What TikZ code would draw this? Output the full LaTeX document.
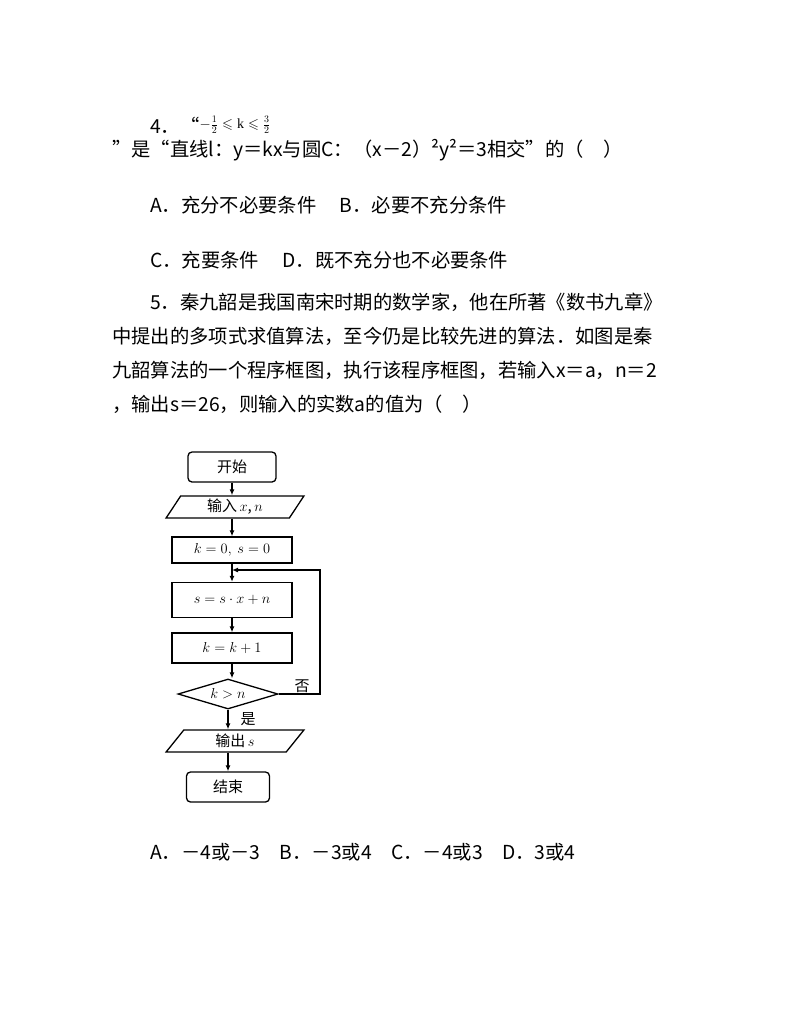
\documentclass[tikz,border=0pt]{standalone}
\usepackage{amssymb}
\usepackage{fontspec}
\setmainfont{Liberation Serif}
\newfontfamily\cjk{Noto Sans CJK SC}
\usetikzlibrary{shapes.geometric,arrows.meta}
\begin{document}
\begin{tikzpicture}[x=1pt,y=-1pt,
  txt/.style={anchor=west,inner sep=0pt,font=\cjk\fontsize{19.3}{22}\selectfont},
  fc/.style={draw,line width=1.3pt,minimum width=120pt,font=\cjk\fontsize{15}{17}\selectfont},
  rbox/.style={fc,rounded corners=4pt,minimum height=30pt,minimum width=88pt},
  pbox/.style={fc,trapezium,trapezium left angle=70,trapezium right angle=-70,trapezium stretches=true,minimum height=22pt,minimum width=138pt,inner xsep=2pt},
  sbox/.style={fc,minimum height=30pt},
  arr/.style={line width=1.2pt,-{Latex[length=6pt,width=5pt]}}]
\useasboundingbox (0,0) rectangle (794,1028);
\node[txt] (l1) at (150,125) {4．“\raisebox{5pt}{\fontsize{14}{16}\selectfont$-\frac{1}{2}\leqslant\mathrm{k}\leqslant\frac{3}{2}$}};
\node[txt] (l2) at (112,150) {”是“直线l：y＝kx与圆C：（x－2）²y²＝3相交”的（\quad）};
\node[txt] (l3) at (150,205) {A．充分不必要条件\quad\ B．必要不充分条件};
\node[txt] (l4) at (150,260) {C．充要条件\quad\ D．既不充分也不必要条件};
\node[txt] (l5) at (150,302) {5．秦九韶是我国南宋时期的数学家，他在所著《数书九章》};
\node[txt] (l6) at (112,336) {中提出的多项式求值算法，至今仍是比较先进的算法．如图是秦};
\node[txt] (l7) at (112,370) {九韶算法的一个程序框图，执行该程序框图，若输入x＝a，n＝2};
\node[txt] (l8) at (112,404) {，输出s＝26，则输入的实数a的值为（\quad）};
\node[txt] (l9) at (150,852) {A．－4或－3\quad B．－3或4\quad C．－4或3\quad D．3或4};

\node[rbox] (st) at (232,467) {开始};
\node[pbox] (in) at (235,507) {输入\,$x$,\,$n$};
\node[sbox,minimum height=26pt] (init) at (232,550) {$k=0,\ s=0$};
\node[sbox,minimum height=35pt] (s) at (232,600) {$s=s\cdot x+n$};
\node[sbox] (k) at (232,648) {$k=k+1$};
\node[fc,diamond,aspect=3.4,minimum width=100pt,minimum height=30pt,inner sep=0pt] (d) at (228,694) {$k>n$};
\node[pbox] (out) at (235,741) {输出\,$s$};
\node[rbox,minimum width=83pt] (en) at (228,787) {结束};
\coordinate (j) at (232,570);
\coordinate (r) at (320,694);
\draw[arr] (st) -- (in.north -| st);
\draw[arr] (in.south -| init) -- (init);
\draw[arr] (init) -- (s);
\draw[arr] (s) -- (k);
\draw[arr] (k.south) -- (d.north -| k);
\draw[arr] (d.south) -- (out.north -| d);
\draw[arr] (out.south -| en) -- (en);
\draw[arr] (d.east) -- (r) -- (r |- j) -- (j);
\node[font=\cjk\fontsize{15}{17}\selectfont] (no) at (302,686) {否};
\node[font=\cjk\fontsize{15}{17}\selectfont] (yes) at (248,719) {是};
\end{tikzpicture}
\end{document}
